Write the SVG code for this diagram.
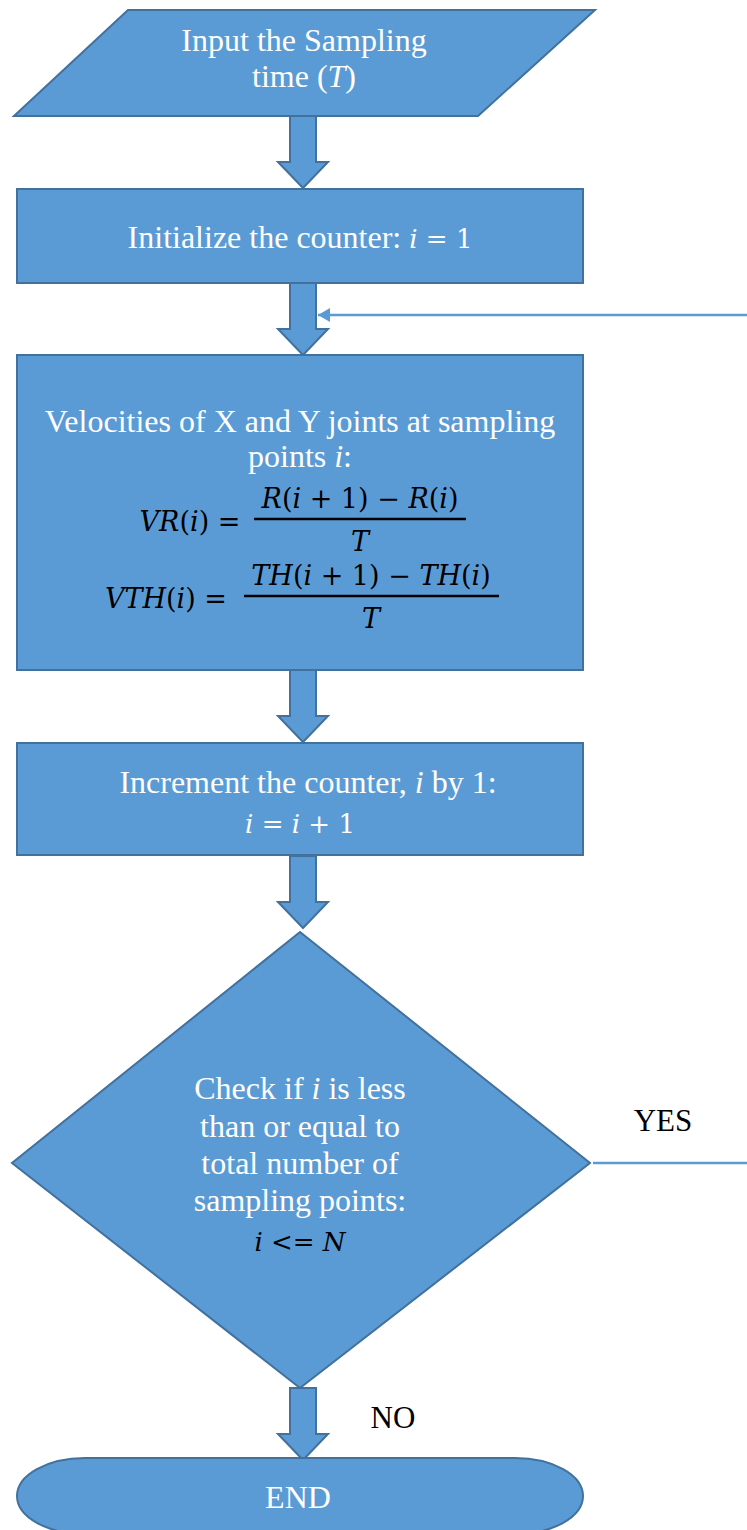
<svg xmlns="http://www.w3.org/2000/svg" width="747" height="1530" viewBox="0 0 747 1530">
<defs>
<style>
.n{fill:#5B9BD5;stroke:#41719C;stroke-width:2}
.t{font-family:"Liberation Serif","Times New Roman",serif;font-size:32px;fill:#fff;text-anchor:middle}
.i{font-style:italic}
.m{font-family:"DejaVu Serif",serif;font-style:italic}
.mu{font-family:"DejaVu Serif",serif;font-style:normal}
.k{font-family:"DejaVu Serif",serif;font-size:27px;fill:#000;text-anchor:middle}
.w{font-family:"DejaVu Serif",serif;font-size:26px;fill:#fff;text-anchor:middle}
.y{font-family:"Liberation Serif","Times New Roman",serif;font-size:31px;fill:#000;text-anchor:middle}
.bar{stroke:#000;stroke-width:2.5}
.ba{fill:#5B9BD5;stroke:#41719C;stroke-width:2}
.c{fill:none;stroke:#5B9BD5;stroke-width:2.5}
</style>
<marker id="ah" markerWidth="14" markerHeight="14" refX="12" refY="7" orient="auto" markerUnits="userSpaceOnUse" viewBox="0 0 14 14">
<path d="M0,0 L12,7 L0,14 Z" fill="#5B9BD5"/>
</marker>
<path id="arr" d="M-13,0 H13 V46 H25 L0,72 L-25,46 H-13 Z"/>
</defs>

<g id="connectors">
<use href="#arr" class="ba" x="303" y="116"/>
<use href="#arr" class="ba" x="303" y="283"/>
<use href="#arr" class="ba" x="303" y="670"/>
<use href="#arr" class="ba" x="303" y="856"/>
<use href="#arr" class="ba" x="303" y="1388"/>
<path class="c" d="M593,1163 H752 V315 H318" marker-end="url(#ah)"/>
<text class="y" x="663" y="1131">YES</text>
<text class="y" x="393" y="1428">NO</text>
</g>

<g id="input">
<path class="n" d="M128,10 H595 L478,116 H14 Z"/>
<text class="t" x="304" y="51">Input the Sampling</text>
<text class="t" x="304" y="87">time (<tspan class="i">T</tspan>)</text>
</g>

<g id="init">
<rect class="n" x="17" y="189" width="566" height="94"/>
<text class="t" x="300" y="248">Initialize the counter: <tspan class="m" font-size="26">i</tspan><tspan class="mu" font-size="26"> = 1</tspan></text>
</g>

<g id="velocity">
<rect class="n" x="17" y="355" width="566" height="315"/>
<text class="t" x="300" y="432">Velocities of X and Y joints at sampling</text>
<text class="t" x="300" y="467">points <tspan class="i">i</tspan>:</text>
<text class="k" x="190" y="531"><tspan class="m">VR</tspan>(<tspan class="m">i</tspan>) =</text>
<text class="k" x="360" y="508"><tspan class="m">R</tspan>(<tspan class="m">i</tspan> + 1) − <tspan class="m">R</tspan>(<tspan class="m">i</tspan>)</text>
<line class="bar" x1="254" y1="519" x2="466" y2="519"/>
<text class="k" x="360" y="551"><tspan class="m">T</tspan></text>
<text class="k" x="166" y="608"><tspan class="m">VTH</tspan>(<tspan class="m">i</tspan>) =</text>
<text class="k" x="371" y="585"><tspan class="m">TH</tspan>(<tspan class="m">i</tspan> + 1) − <tspan class="m">TH</tspan>(<tspan class="m">i</tspan>)</text>
<line class="bar" x1="244" y1="596" x2="499" y2="596"/>
<text class="k" x="371" y="628"><tspan class="m">T</tspan></text>
</g>

<g id="increment">
<rect class="n" x="17" y="743" width="566" height="112"/>
<text class="t" x="308" y="793">Increment the counter, <tspan class="i">i</tspan> by 1:</text>
<text class="w" x="300" y="833"><tspan class="m">i</tspan> = <tspan class="m">i</tspan> + 1</text>
</g>

<g id="check">
<path class="n" d="M300,932 L590,1163 L300,1388 L12,1163 Z"/>
<text class="t" x="300" y="1099">Check if <tspan class="i">i</tspan> is less</text>
<text class="t" x="300" y="1137">than or equal to</text>
<text class="t" x="300" y="1174">total number of</text>
<text class="t" x="300" y="1211">sampling points:</text>
<text class="k" x="300" y="1251" style="font-size:26px"><tspan class="m">i</tspan> &lt;= <tspan class="m">N</tspan></text>
</g>

<g id="end">
<path class="n" d="M85,1458 H515 A68,38 0 0 1 515,1534 H85 A68,38 0 0 1 85,1458 Z"/>
<text class="t" x="298" y="1508">END</text>
</g>
</svg>
